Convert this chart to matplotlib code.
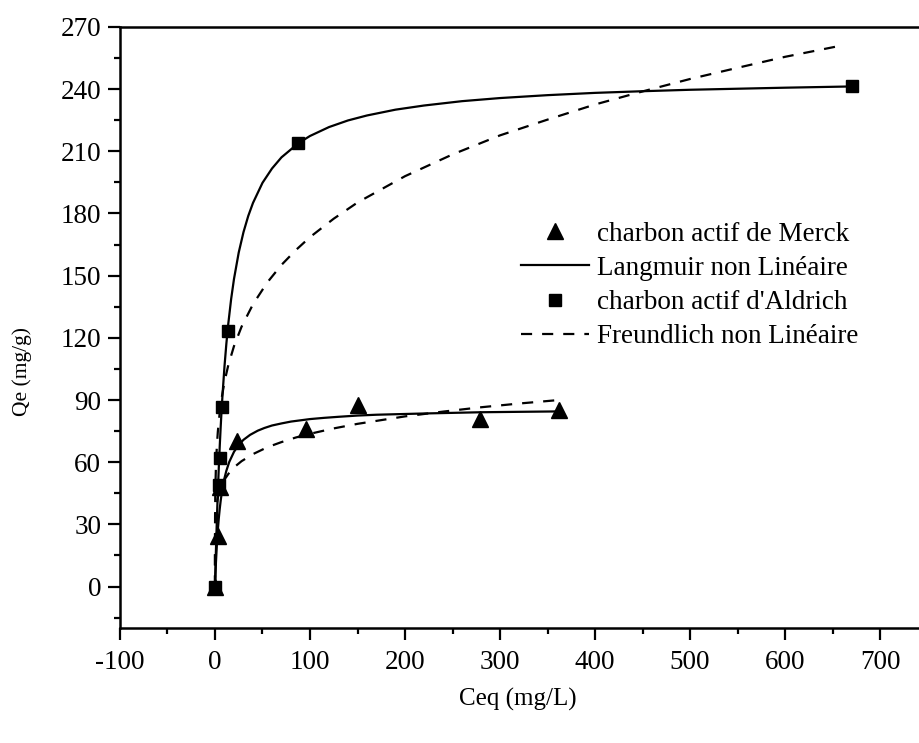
import matplotlib
matplotlib.use("Agg")
import matplotlib.pyplot as plt
from matplotlib.lines import Line2D

# Points mesures - charbon actif de Merck (triangles)
ceq_merck = [0, 2.7, 5, 23, 96, 150, 279, 362]
qe_merck = [0, 24.6, 48, 70, 76, 87.7, 80.8, 85]

# Points mesures - charbon actif d'Aldrich (carres)
ceq_aldrich = [0, 4.4, 5.2, 6.9, 13.6, 87, 670]
qe_aldrich = [0, 49, 62, 86.6, 123.4, 214, 241.4]

# Courbes (Langmuir / Freundlich non lineaire)
lang_ald_x = [0, 1, 2, 3, 4, 5, 6, 7, 8, 10, 12, 14, 17, 20, 25, 30, 35, 40, 50, 60, 70, 88,
              100, 120, 140, 160, 190, 220, 260, 300, 350, 400, 450, 500, 600, 670]
lang_ald_y = [0, 17.4, 32.5, 45.7, 57.3, 67.7, 77.0, 85.4, 93.0, 106.2, 117.3, 126.8, 138.7,
              148.4, 161.2, 171.0, 178.8, 185.1, 194.8, 201.7, 207.1, 214.0, 217.4, 221.7,
              224.9, 227.3, 230.1, 232.1, 234.2, 235.7, 237.1, 238.2, 239.0, 239.7, 240.7, 241.3]

lang_mer_x = [0, 1, 2, 3, 4, 5, 6, 7, 8, 10, 12, 15, 20, 25, 30, 37, 45, 52, 60, 70, 80, 100,
              115, 130, 150, 170, 195, 220, 250, 280, 320, 362]
lang_mer_y = [0, 11.5, 20.4, 27.3, 32.9, 37.5, 41.4, 44.8, 47.6, 52.3, 55.9, 60.1, 65.0, 68.4,
              70.8, 73.2, 75.2, 76.5, 77.7, 78.7, 79.6, 80.8, 81.4, 81.9, 82.5, 82.9, 83.2,
              83.5, 83.8, 84.1, 84.3, 84.5]

freu_ald_x = [0, 0.02, 0.1, 0.3, 0.5, 1, 2, 3, 5, 7, 10, 14, 20, 28, 40, 55, 70, 85, 100,
              125, 150, 200, 250, 300, 350, 400, 450, 500, 550, 600, 660]
freu_ald_y = [0, 23.4, 34.0, 43.8, 49.3, 57.9, 68.0, 74.7, 84.1, 90.9, 98.8, 106.8, 116.0,
              125.4, 136.2, 146.7, 155.2, 162.3, 168.6, 177.5, 185.3, 198.0, 208.5, 217.7,
              225.3, 232.6, 238.9, 244.9, 250.3, 255.6, 261.1]

freu_mer_x = [0, 0.02, 0.1, 0.3, 0.5, 1, 2, 3, 5, 7, 10, 14, 20, 28, 40, 55, 70, 85, 100,
              125, 150, 200, 240, 280, 320, 362]
freu_mer_y = [0, 19.7, 25.3, 30.0, 32.4, 36.1, 40.2, 42.8, 46.3, 48.8, 51.6, 54.3, 57.5,
              60.5, 63.9, 67.2, 69.7, 71.9, 73.7, 76.3, 78.5, 82.1, 84.4, 86.5, 88.3, 90.0]

plt.rcParams['font.family'] = ['Liberation Serif', 'DejaVu Serif']
plt.rcParams['axes.unicode_minus'] = False

fig = plt.figure(figsize=(9.2, 7.43), dpi=100)
ax = fig.add_axes([0.1304, 0.1548, 0.8696, 0.8089])

dash = (0, (5, 4.5))

# Courbes
ax.plot(lang_ald_x, lang_ald_y, color='black', lw=1.6, zorder=2)
ax.plot(lang_mer_x, lang_mer_y, color='black', lw=1.6, zorder=2)
ax.plot(freu_ald_x, freu_ald_y, color='black', lw=1.6, ls=dash, zorder=2)
ax.plot(freu_mer_x, freu_mer_y, color='black', lw=1.6, ls=dash, zorder=2)

# Points
ax.plot(ceq_merck, qe_merck, ls='none', marker='^', color='black', ms=11, zorder=3)
ax.plot(ceq_aldrich, qe_aldrich, ls='none', marker='s', color='black', ms=9, zorder=3)

ax.set_xlim(-100, 742)
ax.set_ylim(-20, 270)
ax.set_xticks(range(-100, 701, 100))
ax.set_xticks(range(-50, 701, 100), minor=True)
ax.set_yticks(range(0, 271, 30))
ax.set_yticks(range(-15, 270, 30), minor=True)

ax.spines['right'].set_visible(False)
for s in ['left', 'bottom', 'top']:
    ax.spines[s].set_linewidth(1.8)
ax.tick_params(which='major', direction='out', length=8.5, width=1.6, labelsize=19.5, pad=5)
ax.tick_params(which='minor', direction='out', length=4.5, width=1.6)
ax.tick_params(axis='x', pad=7)

fig.text(0.024, 0.5, 'Qe (mg/g)', rotation=90, va='center', ha='center', fontsize=15.5)
fig.text(0.563, 0.058, 'Ceq (mg/L)', va='center', ha='center', fontsize=18)

# Legende
handles = [
    Line2D([], [], ls='none', marker='^', color='black', ms=11),
    Line2D([], [], color='black', lw=1.6),
    Line2D([], [], ls='none', marker='s', color='black', ms=8),
    Line2D([], [], color='black', lw=1.6, ls=(0, (5, 4.5))),
]
labels = ['charbon actif de Merck', 'Langmuir non Linéaire',
          "charbon actif d'Aldrich", 'Freundlich non Linéaire']
ax.legend(handles, labels, loc='upper left', bbox_to_anchor=(0.552, 0.72),
          bbox_transform=fig.transFigure, frameon=False, fontsize=19.5,
          handlelength=2.5, handletextpad=0.3, labelspacing=0.34, borderpad=0)

fig.savefig('out.png', dpi=100)
